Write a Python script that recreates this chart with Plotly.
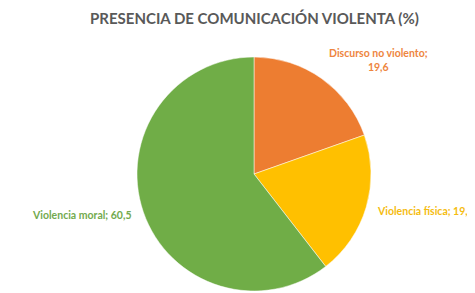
import plotly.graph_objects as go

categories = ["Discurso no violento", "Violencia física", "Violencia moral"]
values = [19.6, 19.9, 60.5]
colors = ["#ED7D31", "#FFC000", "#70AD47"]
title_text = "PRESENCIA DE COMUNICACIÓN VIOLENTA (%)"

def fmt(v):
    return f"{v:.1f}".replace(".", ",")

W, H = 475, 293
OFF = 8  # page body margin offset

def px(x):
    return (x - OFF) / W

def py(y):
    return 1 - (y - OFF) / H

fig = go.Figure()
fig.add_trace(go.Pie(
    labels=categories, values=values, sort=False, direction="clockwise",
    rotation=0, marker=dict(colors=colors, line=dict(color="white", width=0.5)),
    textinfo="none", hoverinfo="label+value", showlegend=False,
    domain=dict(x=[px(137), px(371)], y=[py(291), py(57)]),
))

font_family = "Lato"
ann = [
    dict(text=f"{categories[0]};<br>{fmt(values[0])}", x=px(378), y=py(60),
         xanchor="center", yanchor="middle", align="center", color="#EE8540"),
    dict(text=f"{categories[1]}; {fmt(values[1])}", x=px(375), y=py(211),
         xanchor="left", yanchor="middle", align="left", color="#F5BC10"),
    dict(text=f"{categories[2]}; {fmt(values[2])}", x=px(133), y=py(215),
         xanchor="right", yanchor="middle", align="right", color="#73AA4E"),
]
annotations = []
for a in ann:
    annotations.append(dict(
        text=a["text"], x=a["x"], y=a["y"], xref="paper", yref="paper",
        xanchor=a["xanchor"], yanchor=a["yanchor"], align=a["align"],
        showarrow=False,
        font=dict(family=font_family, size=10.5, color=a["color"], weight="bold"),
    ))
annotations.append(dict(
    text=f"<b>{title_text}</b>", x=px(254), y=py(18), xref="paper", yref="paper",
    xanchor="center", yanchor="middle", showarrow=False,
    font=dict(family=font_family, size=15, color="#595959"),
))

fig.update_layout(
    width=W, height=H, margin=dict(l=0, r=0, t=0, b=0),
    paper_bgcolor="white", plot_bgcolor="white",
    annotations=annotations,
)
fig.write_html("out.html")
